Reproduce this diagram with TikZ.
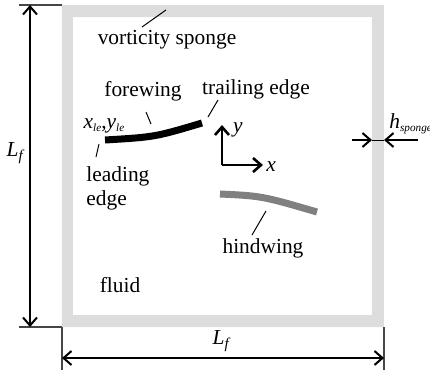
\documentclass[tikz,border=0pt]{standalone}
\usepackage{fontspec}
\setmainfont{Liberation Serif}
\usepackage{tikz}
\usetikzlibrary{arrows.meta}
\definecolor{spongeGray}{RGB}{221, 221, 221}
\definecolor{hindGray}{RGB}{128, 128, 128}
\definecolor{extGray}{RGB}{70, 70, 70}
\newcommand{\itsub}[2]{\textit{#1}\textsubscript{\textit{#2}}}
\newcommand{\smallsub}[2]{\textit{#1}\raisebox{-0.3ex}{\fontsize{5.6}{6}\selectfont\textit{#2}}}

\begin{document}
\begin{tikzpicture}[
    x=0.5pt, y=-0.5pt,
    lbl/.style={font=\fontsize{10.7}{12}\selectfont, inner sep=0pt},
    dimline/.style={line width=1pt, {Straight Barb[length=4pt,width=7pt]}-{Straight Barb[length=4pt,width=7pt]}},
    dimarrow/.style={line width=1pt, -{Straight Barb[length=4pt,width=7pt]}},
    extline/.style={extGray, line width=0.6pt},
    leader/.style={line width=0.5pt},
    axis/.style={line width=1.3pt, -{Straight Barb[length=4pt,width=7pt]}},
    wing/.style={line width=3.5pt},
  ]
    \useasboundingbox (0,0) rectangle (430,370);
    % sponge layer round the fluid
    \fill[spongeGray, even odd rule] (62,5) rectangle (384,327) (73,17) rectangle (372,315);
    % L_f vertical
    \coordinate (topA) at (19,5);  \coordinate (topB) at (62,5);
    \coordinate (botA) at (19,327); \coordinate (botB) at (62,327);
    \draw[extline] (topA) -- (topB);
    \draw[extline] (botA) -- (botB);
    \draw[dimline] (30,5) -- (30,327);
    \node[lbl] (Lleft) at (16,153) {\itsub{L}{f}};
    % L_f horizontal
    \coordinate (extL) at (62,370); \coordinate (extR) at (384,370);
    \draw[extline] (botB) -- (extL);
    \draw[extline] (384,327) -- (extR);
    \draw[dimline] (62,358) -- (384,358);
    \node[lbl] (Lbot) at (222,341) {\itsub{L}{f}};
    % h_sponge
    \coordinate (hA) at (352,140); \coordinate (hB) at (372,140);
    \coordinate (hC) at (384,140); \coordinate (hD) at (418,140);
    \draw[dimarrow] (hA) -- (hB);
    \draw[dimarrow] (hD) -- (hC);
    \draw[leader] (hB) -- (hC);
    \node[lbl, anchor=west] (hlab) at (389,124) {\smallsub{h}{sponge}};
    % vorticity sponge
    \node[lbl] (sponge) at (167,40) {vorticity sponge};
    \draw[leader] (142,27) -- (166,10);
    % forewing
    \coordinate (le) at (105,140); \coordinate (te) at (202,123);
    \draw[wing] (le) .. controls (155,137) .. (te);
    \node[lbl] (fore) at (143,91) {forewing};
    \draw[leader] (146,112) -- (151,124);
    \node[lbl] (xyle) at (104,126) {\smallsub{x}{le},\smallsub{y}{le}};
    \node[lbl, anchor=north west, align=left] (lead) at (86,166) {leading\\edge};
    \draw[leader] (96,157) -- (99,144);
    \node[lbl] (trail) at (256,89) {trailing edge};
    \draw[leader] (208,117) -- (218,100);
    % coordinate axes
    \coordinate (orig) at (222,165);
    \coordinate (ytip) at (222,125); \coordinate (xtip) at (263,165);
    \draw[axis] (orig) -- (ytip);
    \draw[axis] (orig) -- (xtip);
    \node[lbl] (ylab) at (238,130) {\textit{y}};
    \node[lbl] (xlab) at (271,167) {\textit{x}};
    % hindwing
    \draw[wing, hindGray] (220,194) .. controls (262,196) .. (317,212);
    \node[lbl] (hind) at (263,248) {hindwing};
    \draw[leader] (266,211) -- (252,235);
    % fluid
    \node[lbl] (fluid) at (120,285) {fluid};
  \end{tikzpicture}
\end{document}
